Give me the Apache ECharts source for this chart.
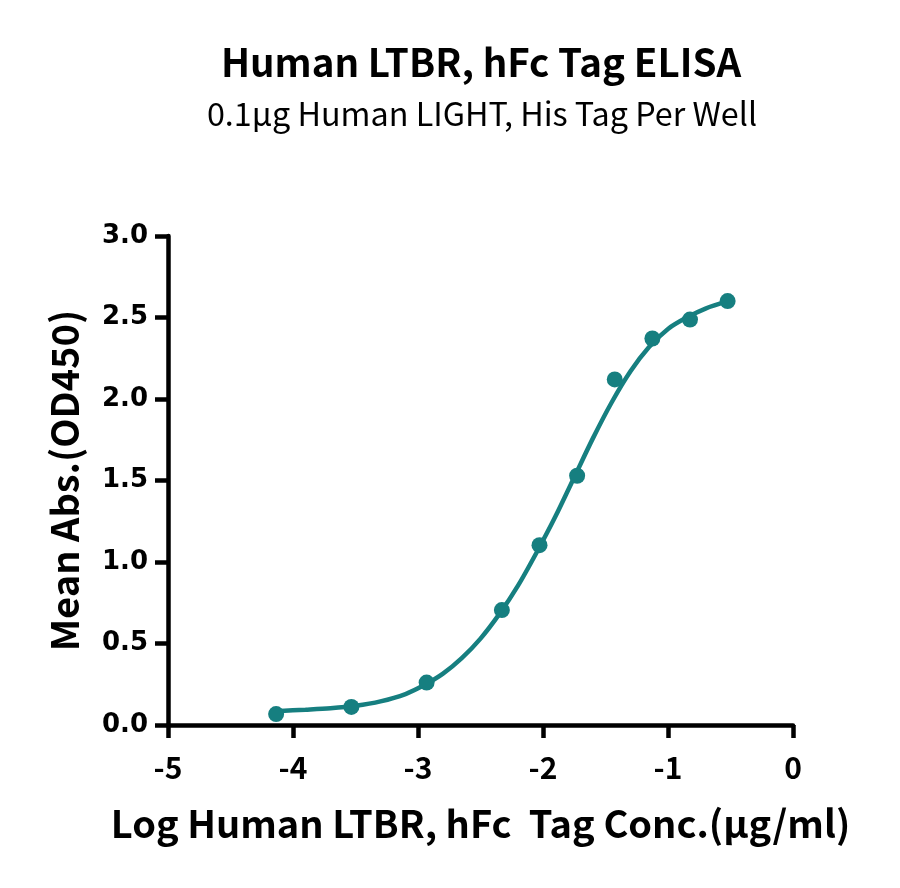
<!DOCTYPE html>
<html>
<head>
<meta charset="utf-8">
<script src="https://cdn.jsdelivr.net/npm/echarts@6/dist/echarts.min.js"></script>
<style>
html,body{margin:0;padding:0;background:#fff;}
#chart{width:900px;height:888px;}
</style>
</head>
<body>
<div id="chart"></div>
<script>
// Measured points (log concentration, mean OD450)
const logConc = [-4.135, -3.533, -2.931, -2.329, -2.028, -1.727, -1.426, -1.125, -0.824, -0.523];
const meanAbs = [0.067, 0.111, 0.260, 0.705, 1.103, 1.529, 2.120, 2.371, 2.487, 2.601];

// Fitted curve
const curveX = [-4.135, -3.9, -3.7, -3.5, -3.3, -3.1, -2.95, -2.8, -2.65, -2.5, -2.35, -2.2, -2.05, -1.9, -1.75, -1.6, -1.45, -1.3, -1.15, -1.0, -0.85, -0.7, -0.52];
const curveY = [0.085, 0.094, 0.103, 0.118, 0.145, 0.190, 0.245, 0.315, 0.410, 0.530, 0.680, 0.855, 1.060, 1.280, 1.520, 1.760, 1.980, 2.170, 2.320, 2.430, 2.500, 2.555, 2.600];

const xTicks = [-5, -4, -3, -2, -1, 0];
const yTicks = [0, 0.5, 1.0, 1.5, 2.0, 2.5, 3.0];

const titleText = 'Human LTBR, hFc Tag ELISA';
const subtitleText = '0.1μg Human LIGHT, His Tag Per Well';
const xName = 'Log Human LTBR, hFc  Tag Conc.(μg/ml)';
const yName = 'Mean Abs.(OD450)';

const teal = '#167f80';
const latin = '"Noto Sans CJK SC", "Noto Sans", sans-serif';

const chart = echarts.init(document.getElementById('chart'));
chart.setOption({
  backgroundColor: '#fff',
  animation: false,
  title: [
    {text: titleText, left: 476, top: 38, textAlign: 'center',
     textStyle: {fontFamily: latin, fontWeight: 'bold', fontSize: 38.5, color: '#000'}},
    {text: subtitleText, left: 477, top: 93, textAlign: 'center',
     textStyle: {fontFamily: latin, fontWeight: 'normal', fontSize: 32.3, color: '#000'}}
  ],
  grid: {left: 168, right: 107, top: 236, bottom: 163, containLabel: false},
  xAxis: {
    type: 'value', min: xTicks[0], max: xTicks[xTicks.length - 1], interval: 1,
    name: xName, nameLocation: 'middle', nameGap: 80,
    nameTextStyle: {fontFamily: latin, fontWeight: 'bold', fontSize: 38, color: '#000'},
    axisLine: {show: true, onZero: false, lineStyle: {color: '#000', width: 4.5}},
    axisTick: {show: true, length: 13, lineStyle: {color: '#000', width: 4.5}},
    axisLabel: {margin: 28, fontFamily: latin, fontWeight: 'bold', fontSize: 30, color: '#000'},
    splitLine: {show: false}
  },
  yAxis: {
    type: 'value', min: yTicks[0], max: yTicks[yTicks.length - 1], interval: 0.5,
    name: yName, nameLocation: 'middle', nameGap: 84, nameRotate: 90,
    nameTextStyle: {fontFamily: latin, fontWeight: 'bold', fontSize: 38, color: '#000'},
    axisLine: {show: true, onZero: false, lineStyle: {color: '#000', width: 4.5}},
    axisTick: {show: true, length: 13, lineStyle: {color: '#000', width: 4.5}},
    axisLabel: {margin: 20, fontFamily: '"DejaVu Sans", sans-serif', fontWeight: 'bold', fontSize: 26, color: '#000',
      formatter: v => v.toFixed(1)},
    splitLine: {show: false}
  },
  series: [
    {type: 'line', data: curveX.map((x, i) => [x, curveY[i]]), smooth: 0.3, showSymbol: false,
     lineStyle: {color: teal, width: 4.5}, z: 2},
    {type: 'scatter', data: logConc.map((x, i) => [x, meanAbs[i]]), symbol: 'circle', symbolSize: 16,
     itemStyle: {color: teal, opacity: 1}, z: 3}
  ]
});
</script>
</body>
</html>
